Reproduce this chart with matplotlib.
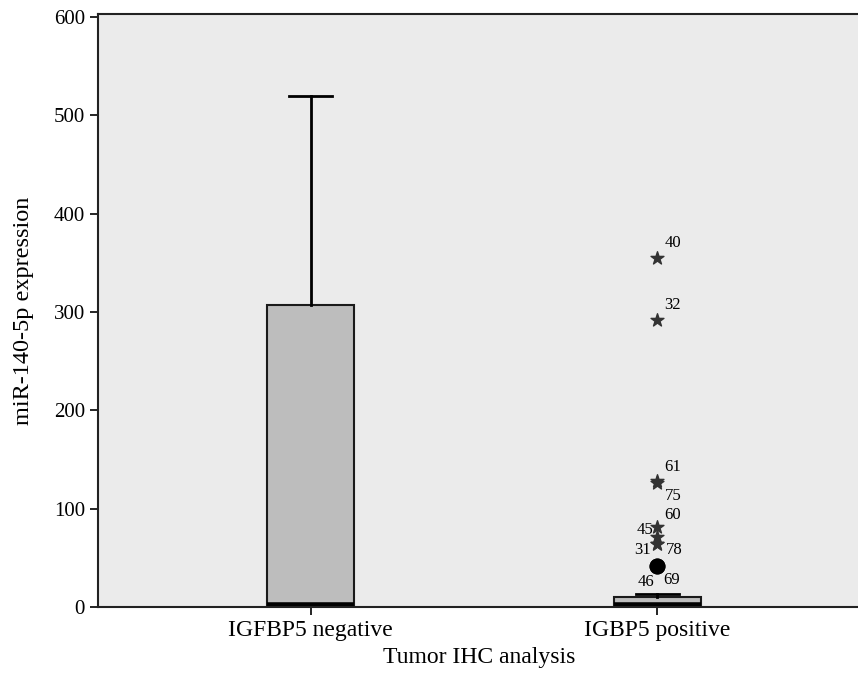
import numpy as np
import matplotlib.pyplot as plt

plt.rcParams['font.family'] = ['Liberation Serif', 'DejaVu Serif']

# data
groups = ['IGFBP5 negative', 'IGBP5 positive']
q1 = [0, 0]
med = [2, 2]
q3 = [307, 10]
wlo = [0, 0]
whi = [520, 13]

# extreme outliers (stars) and outliers (circles) for the second group
star_vals = [355, 292, 128, 126, 81, 71, 64, 64]
star_ids = ['40', '32', '61', '75', '60', '45', '31', '78']
circ_vals = [42, 42]
circ_ids = ['46', '69']

fig = plt.figure(figsize=(8.58, 6.73), dpi=100)
ax = fig.add_axes([98 / 858, 66 / 673, 762 / 858, 593 / 673])
ax.set_facecolor('#ebebeb')

stats = []
for i in range(2):
    stats.append(dict(q1=q1[i], med=med[i], q3=q3[i], whislo=wlo[i],
                      whishi=whi[i], fliers=[], label=groups[i]))

ax.bxp(stats, positions=[1, 2], widths=0.25, patch_artist=True,
       boxprops=dict(facecolor='#bdbdbd', edgecolor='#1a1a1a', linewidth=1.5),
       medianprops=dict(color='black', linewidth=4),
       whiskerprops=dict(color='black', linewidth=2),
       capprops=dict(color='black', linewidth=2), capwidths=0.125)

ax.scatter([2] * len(star_vals), star_vals, marker='*', s=95, color='#333333',
           zorder=5)
ax.scatter([2] * len(circ_vals), circ_vals, marker='o', s=110, color='black',
           zorder=5)

# outlier labels: (dx, dy) in points, horizontal alignment
offs = {'40': (5, 11, 'left'), '32': (5, 11, 'left'), '61': (5, 10, 'left'),
        '75': (5, -9, 'left'), '60': (5, 9, 'left'), '45': (-3, 5, 'right'),
        '31': (-5, -4, 'right'), '78': (6, -4, 'left'),
        '46': (-2, -12, 'right'), '69': (4, -10, 'left')}
for v, t in zip(star_vals + circ_vals, star_ids + circ_ids):
    dx, dy, ha = offs[t]
    ax.annotate(t, (2, v), xytext=(dx, dy), textcoords='offset points',
                fontsize=12, va='center', ha=ha)

ax.set_xlim(0.387, 2.584)
ax.set_ylim(0, 603)
ax.set_yticks(np.arange(0, 601, 100))
ax.set_xticks([1, 2])
ax.set_xticklabels(groups)
ax.tick_params(axis='y', labelsize=15, length=6, width=1.2, color='black')
ax.tick_params(axis='x', labelsize=17, length=6, width=1.2, color='black')
for s in ax.spines.values():
    s.set_linewidth(1.5)
    s.set_color('#222222')

ax.set_xlabel('Tumor IHC analysis', fontsize=17, labelpad=4)
ax.set_ylabel('miR-140-5p expression', fontsize=17.5, labelpad=14)

fig.savefig('out.png', dpi=100)
